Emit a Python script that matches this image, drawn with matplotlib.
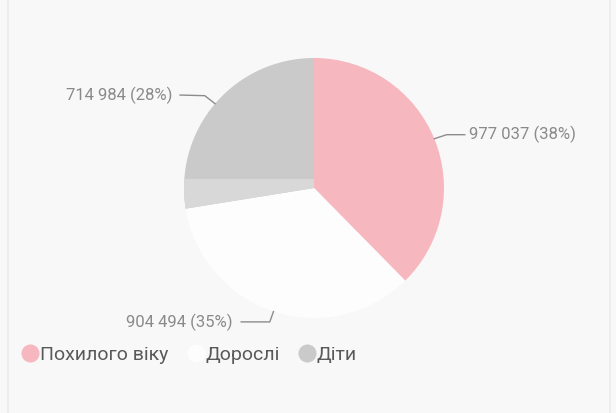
import numpy as np
import matplotlib.pyplot as plt
from matplotlib.lines import Line2D
from matplotlib.patches import Rectangle

# data
categories = ['Похилого віку', 'Дорослі', 'Діти']
values = [977037, 904494, 714984]
percents = [38, 35, 28]
colors = ['#f7b7bf', '#fdfdfd', '#cacaca']

plt.rcParams['font.family'] = ['Roboto', 'DejaVu Sans']

W, H = 616, 413
fig = plt.figure(figsize=(W / 100, H / 100), dpi=100)
fig.patch.set_facecolor('#f8f8f8')

# faint card border from the scan
fig.add_artist(Rectangle((8 / W, -0.02), (W - 14) / W, 1.04,
                         transform=fig.transFigure, fill=False,
                         edgecolor='#ebebeb', lw=1.2))

# pie centred at (314, 188) px, radius 130 px
cx, cy, r = 314, 188, 130
ax = fig.add_axes([(cx - r) / W, (H - cy - r) / H, 2 * r / W, 2 * r / H])
wedges, _ = ax.pie(values, colors=colors, startangle=90, counterclock=False,
                   wedgeprops=dict(linewidth=0))
ax.set_xlim(-1, 1)
ax.set_ylim(-1, 1)
ax.axis('off')

# lighter scan band across the grey slice
band = Rectangle((-1.1, -0.2), 2.2, 0.27, color='#d8d8d8', lw=0)
ax.add_patch(band)
band.set_clip_path(wedges[2])


def fmt(v, p):
    return '{:,}'.format(v).replace(',', ' ') + ' ({}%)'.format(p)


# leader lines: edge point -> elbow -> end, then text
label_layout = [
    # elbow, end, text pos, ha
    ((1.02, 0.41), (1.16, 0.41), (1.19, 0.41), 'left'),
    ((-0.34, -1.03), (-0.56, -1.03), (-0.63, -1.03), 'right'),
    ((-0.84, 0.71), (-1.03, 0.715), (-1.09, 0.715), 'right'),
]
total = float(sum(values))
start = 90.0
for v, p, (elbow, end, tpos, ha) in zip(values, percents, label_layout):
    sweep = 360.0 * v / total
    mid = np.deg2rad(start - sweep / 2)
    start -= sweep
    edge = (np.cos(mid), np.sin(mid))
    ax.plot([edge[0], elbow[0], end[0]], [edge[1], elbow[1], end[1]],
            color='#8c8c8c', lw=1, clip_on=False)
    ax.text(tpos[0], tpos[1], fmt(v, p), ha=ha, va='center',
            fontsize=12, color='#8a8a8a', clip_on=False)

handles = [Line2D([], [], marker='o', ls='', markersize=13,
                  markerfacecolor=c, markeredgecolor='none') for c in colors]
fig.legend(handles, categories, loc='center left',
           bbox_to_anchor=(0.005, 1 - 355 / H),
           ncol=3, frameon=False, fontsize=14, labelcolor='#595959',
           handletextpad=0.0, columnspacing=0.9, handlelength=1.0)

fig.savefig('out.png', dpi=100, facecolor=fig.get_facecolor())
